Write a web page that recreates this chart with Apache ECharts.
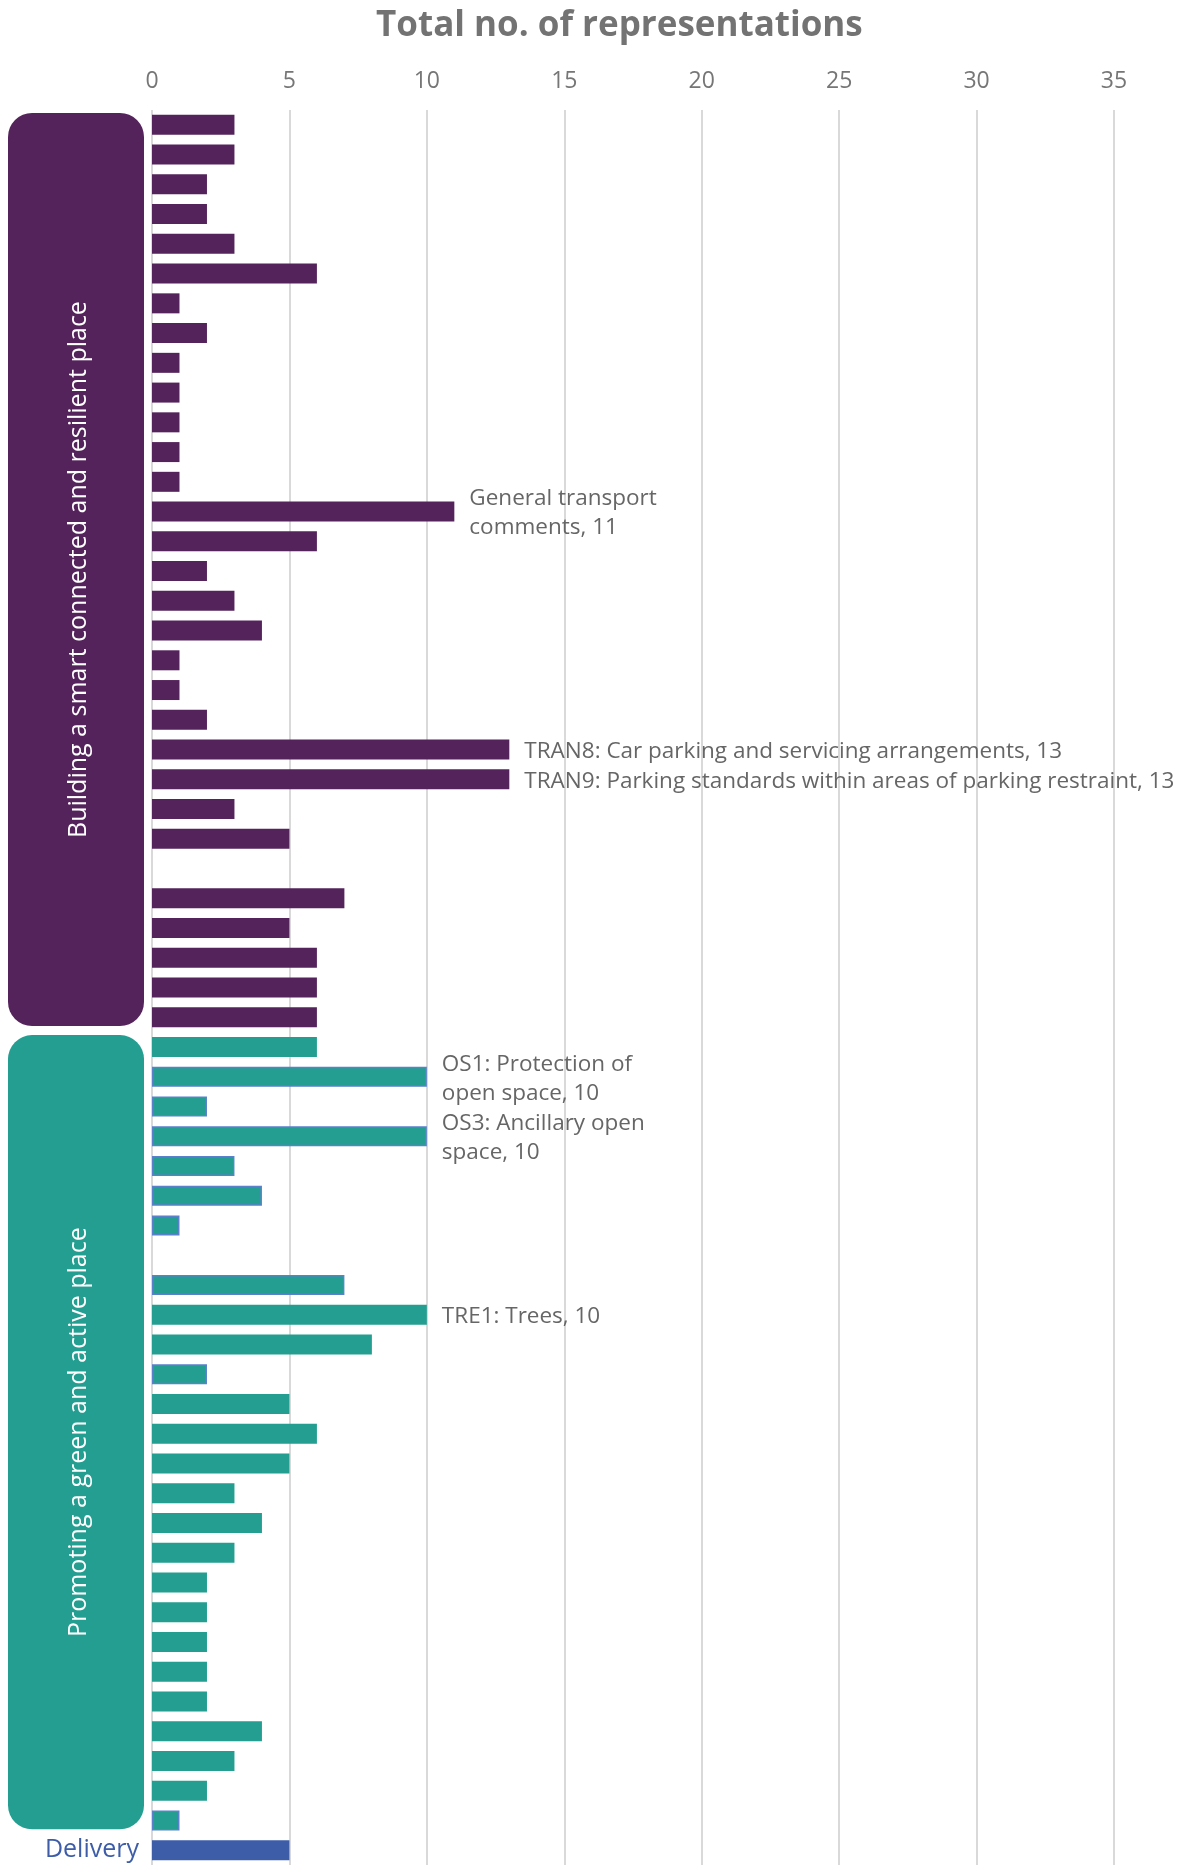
<!DOCTYPE html>
<html>
<head>
<meta charset="utf-8">
<script src="https://cdn.jsdelivr.net/npm/echarts@6/dist/echarts.min.js"></script>
<style>
  html, body { margin: 0; padding: 0; background: #ffffff; }
  #chart { width: 1192px; height: 1865px; }
</style>
</head>
<body>
<div id="chart"></div>
<script>
// Theme names and their bar colours
const groupNames = [
  'Building a smart connected and resilient place',
  'Promoting a green and active place',
  'Delivery'
];
const groupColors = ['#55235C', '#239E91', '#3D5DA8'];

// Representations per policy, top to bottom within each theme (null = no bar)
const smartValues = [3, 3, 2, 2, 3, 6, 1, 2, 1, 1, 1, 1, 1, 11, 6, 2, 3, 4, 1, 1, 2, 13, 13, 3, 5, null, 7, 5, 6, 6, 6];
const greenValues = [6, 10, 2, 10, 3, 4, 1, null, 7, 10, 8, 2, 5, 6, 5, 3, 4, 3, 2, 2, 2, 2, 2, 4, 3, 2, 1];
const deliveryValues = [5];

// Named policies that carry a value label (index within theme -> text)
const smartLabels = {
  13: 'General transport\ncomments',
  21: 'TRAN8: Car parking and servicing arrangements',
  22: 'TRAN9: Parking standards within areas of parking restraint'
};
const greenLabels = {
  1: 'OS1: Protection of\nopen space',
  3: 'OS3: Ancillary open\nspace',
  9: 'TRE1: Trees'
};
// Green policies drawn with a thin blue outline
const greenOutlined = [1, 2, 3, 4, 5, 6, 8, 11, 26];

// Value axis ticks
const xTicks = [0, 5, 10, 15, 20, 25, 30, 35];

// Build categories and bar items
const categories = [];
const barItems = [];
const groupRanges = [];
function addGroup(gi, values, labels, outlined) {
  const start = categories.length;
  values.forEach((v, i) => {
    const name = gi === 2 ? 'Delivery' : (labels[i] ? labels[i].replace('\n', ' ') : `${groupNames[gi]} #${i + 1}`);
    categories.push(name);
    const item = {
      value: v,
      itemStyle: { color: groupColors[gi] }
    };
    if (outlined && outlined.indexOf(i) >= 0) {
      item.itemStyle.borderColor = '#5B80CC';
      item.itemStyle.borderWidth = 1.5;
    }
    if (labels[i]) {
      item.label = { show: true, formatter: labels[i] + ', ' + v };
    }
    barItems.push(item);
  });
  groupRanges.push([start, categories.length - 1]);
}
addGroup(0, smartValues, smartLabels, null);
addGroup(1, greenValues, greenLabels, greenOutlined);
addGroup(2, deliveryValues, {}, null);

const FONT = "'Open Sans', 'Noto Sans', sans-serif";

const chart = echarts.init(document.getElementById('chart'), null, { renderer: 'canvas' });

chart.setOption({
  animation: false,
  backgroundColor: '#ffffff',
  title: {
    text: 'Total no. of representations',
    left: 371,
    top: 4,
    textStyle: { fontFamily: FONT, fontSize: 35, fontWeight: 'bold', color: '#737373' }
  },
  grid: { left: 152, right: 78, top: 110, bottom: 0, containLabel: false },
  xAxis: {
    type: 'value',
    position: 'top',
    min: xTicks[0],
    max: xTicks[xTicks.length - 1],
    interval: xTicks[1] - xTicks[0],
    axisLine: { show: false },
    axisTick: { show: false },
    axisLabel: { color: '#767676', fontFamily: FONT, fontSize: 23, margin: 17 },
    splitLine: { show: true, lineStyle: { color: '#D9D9D9', width: 2 } }
  },
  yAxis: {
    type: 'category',
    inverse: true,
    data: categories,
    axisLine: { show: false },
    axisTick: { show: false },
    axisLabel: {
      margin: 13,
      color: '#3D5DA8',
      fontFamily: FONT,
      fontSize: 25,
      interval: 0,
      formatter: v => (v === 'Delivery' ? v : '')
    }
  },
  series: [{
    type: 'bar',
    data: barItems,
    barWidth: 20,
    label: {
      show: false,
      position: 'right',
      distance: 15,
      offset: [0, 2],
      color: '#666666',
      fontFamily: FONT,
      fontSize: 22.5,
      lineHeight: 29
    }
  }]
});

// Rounded theme panels spanning each theme's categories
const graphics = [];
const step = chart.convertToPixel({ yAxisIndex: 0 }, 1) - chart.convertToPixel({ yAxisIndex: 0 }, 0);
[0, 1].forEach(gi => {
  const [a, b] = groupRanges[gi];
  const top = chart.convertToPixel({ yAxisIndex: 0 }, a) - step / 2 + 3;
  const bottom = chart.convertToPixel({ yAxisIndex: 0 }, b) + step / 2 - 6;
  const left = 8, right = 144;
  graphics.push({
    type: 'rect',
    shape: { x: left, y: top, width: right - left, height: bottom - top, r: 24 },
    style: { fill: groupColors[gi] },
    z: 10
  });
  graphics.push({
    type: 'text',
    x: (left + right) / 2 + 3,
    y: (top + bottom) / 2,
    rotation: Math.PI / 2,
    style: {
      text: groupNames[gi],
      fill: '#ffffff',
      font: '25px ' + FONT,
      align: 'center',
      verticalAlign: 'middle',
      textAlign: 'center',
      textVerticalAlign: 'middle'
    },
    z: 11
  });
});
chart.setOption({ graphic: graphics });
</script>
</body>
</html>
